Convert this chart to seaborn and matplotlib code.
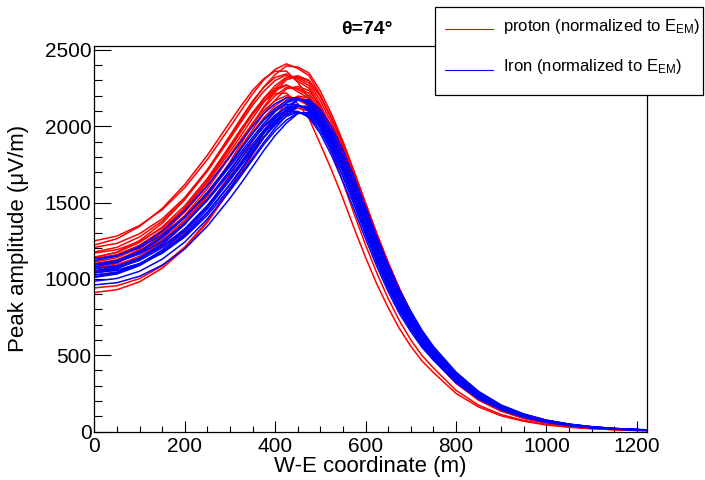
import matplotlib
matplotlib.use("Agg")
import matplotlib.pyplot as plt
from matplotlib.ticker import MultipleLocator
from matplotlib.patches import Rectangle
from matplotlib.lines import Line2D
import pandas as pd
import seaborn as sns

# W-E coordinate (m) at which every simulated curve is sampled
x_coord = [0, 50, 100, 150, 200, 250, 300, 325, 350, 375, 400, 425, 450, 475,
           500, 525, 550, 575, 600, 625, 650, 675, 700, 725, 750, 800, 850,
           900, 950, 1000, 1050, 1100, 1150, 1200, 1225]

# Peak amplitude (uV/m), proton showers (normalized to E_EM)
proton_curves = [
    [1249, 1281, 1350, 1453, 1598, 1782, 1995, 2104, 2212, 2304, 2373, 2409, 2379, 2332, 2204, 2046, 1866, 1664, 1457, 1257, 1070, 902, 752, 626, 520, 350, 227, 148, 96, 62, 39, 26, 15, 10, 8],
    [1222, 1263, 1344, 1461, 1618, 1810, 2027, 2135, 2235, 2312, 2361, 2361, 2289, 2181, 2007, 1828, 1633, 1424, 1223, 1038, 872, 726, 601, 498, 417, 270, 173, 111, 73, 47, 30, 20, 12, 7, 5],
    [1206, 1233, 1296, 1393, 1533, 1715, 1930, 2042, 2156, 2258, 2339, 2395, 2388, 2349, 2231, 2078, 1902, 1703, 1496, 1294, 1104, 932, 778, 648, 538, 364, 237, 155, 100, 65, 41, 27, 16, 11, 9],
    [1176, 1207, 1275, 1378, 1522, 1705, 1919, 2029, 2137, 2230, 2300, 2337, 2309, 2266, 2142, 1988, 1813, 1617, 1416, 1221, 1040, 876, 731, 608, 505, 340, 221, 144, 93, 60, 38, 25, 15, 10, 8],
    [1133, 1159, 1221, 1318, 1457, 1638, 1854, 1967, 2081, 2184, 2266, 2323, 2318, 2283, 2169, 2020, 1849, 1656, 1455, 1258, 1074, 906, 757, 630, 523, 354, 231, 151, 97, 63, 40, 26, 16, 11, 9],
    [1170, 1191, 1245, 1332, 1460, 1629, 1833, 1941, 2053, 2158, 2246, 2317, 2331, 2301, 2196, 2052, 1885, 1694, 1493, 1294, 1107, 936, 783, 652, 540, 368, 240, 157, 101, 65, 41, 27, 16, 11, 9],
    [1143, 1173, 1239, 1340, 1480, 1657, 1865, 1972, 2076, 2166, 2234, 2269, 2241, 2200, 2080, 1930, 1760, 1570, 1375, 1185, 1010, 850, 710, 590, 490, 330, 215, 140, 90, 58, 37, 24, 15, 10, 8],
    [1100, 1125, 1185, 1280, 1415, 1590, 1800, 1910, 2020, 2120, 2200, 2255, 2250, 2217, 2107, 1962, 1796, 1609, 1414, 1222, 1044, 880, 736, 612, 508, 344, 225, 147, 94, 61, 39, 25, 16, 11, 9],
    [1097, 1117, 1170, 1257, 1384, 1552, 1757, 1866, 1978, 2084, 2173, 2245, 2261, 2234, 2134, 1994, 1832, 1647, 1452, 1258, 1077, 910, 762, 634, 525, 358, 234, 153, 98, 63, 40, 26, 16, 11, 9],
    [1076, 1115, 1194, 1311, 1466, 1656, 1875, 1985, 2085, 2164, 2215, 2217, 2149, 2049, 1883, 1712, 1527, 1330, 1141, 966, 812, 674, 559, 462, 387, 250, 161, 103, 67, 43, 28, 18, 12, 7, 5],
    [1067, 1091, 1149, 1242, 1373, 1542, 1746, 1853, 1959, 2056, 2134, 2187, 2182, 2151, 2045, 1904, 1743, 1562, 1373, 1186, 1014, 854, 715, 594, 493, 334, 219, 143, 91, 59, 38, 24, 16, 11, 9],
    [1024, 1043, 1095, 1182, 1308, 1475, 1681, 1791, 1903, 2010, 2100, 2173, 2191, 2167, 2072, 1936, 1779, 1600, 1411, 1222, 1047, 884, 741, 616, 510, 348, 228, 149, 95, 61, 39, 25, 16, 11, 9],
    [1066, 1101, 1176, 1289, 1443, 1637, 1864, 1980, 2090, 2182, 2247, 2271, 2226, 2183, 2053, 1898, 1724, 1531, 1336, 1148, 976, 820, 684, 568, 472, 316, 205, 133, 86, 55, 35, 23, 14, 9, 7],
    [1050, 1071, 1128, 1221, 1358, 1542, 1767, 1887, 2011, 2128, 2225, 2305, 2325, 2298, 2196, 2052, 1885, 1694, 1493, 1294, 1107, 936, 783, 652, 540, 368, 240, 157, 101, 65, 41, 27, 16, 11, 9],
    [911, 929, 981, 1070, 1198, 1369, 1583, 1698, 1814, 1926, 2020, 2097, 2119, 2099, 2010, 1878, 1726, 1553, 1370, 1186, 1017, 858, 720, 598, 495, 338, 222, 145, 92, 59, 38, 24, 16, 11, 9],
    [941, 955, 1002, 1085, 1209, 1379, 1594, 1711, 1833, 1954, 2059, 2155, 2198, 2185, 2099, 1968, 1815, 1639, 1450, 1259, 1081, 914, 767, 638, 528, 362, 238, 156, 99, 64, 41, 26, 17, 12, 10],
    [1139, 1175, 1251, 1364, 1519, 1714, 1940, 2055, 2165, 2256, 2320, 2343, 2296, 2249, 2115, 1956, 1777, 1578, 1377, 1184, 1006, 846, 705, 586, 487, 326, 211, 137, 89, 57, 36, 24, 15, 10, 8],
    [1110, 1139, 1203, 1302, 1438, 1609, 1811, 1915, 2015, 2102, 2168, 2201, 2173, 2134, 2018, 1872, 1707, 1523, 1334, 1149, 980, 824, 689, 572, 475, 320, 209, 136, 87, 56, 36, 23, 15, 10, 8],
]

# Peak amplitude (uV/m), iron showers (normalized to E_EM)
iron_curves = [
    [1119, 1149, 1214, 1312, 1447, 1611, 1801, 1903, 1999, 2084, 2148, 2187, 2186, 2141, 2034, 1886, 1710, 1516, 1319, 1129, 960, 808, 685, 575, 488, 334, 223, 148, 97, 63, 41, 26, 16, 11, 9],
    [1095, 1121, 1181, 1273, 1402, 1563, 1752, 1854, 1953, 2044, 2117, 2167, 2182, 2150, 2053, 1913, 1743, 1553, 1357, 1165, 993, 838, 711, 597, 505, 348, 233, 154, 101, 66, 43, 27, 17, 12, 10],
    [1131, 1153, 1205, 1288, 1408, 1557, 1736, 1832, 1928, 2019, 2095, 2153, 2181, 2158, 2072, 1941, 1777, 1590, 1395, 1202, 1027, 868, 737, 619, 523, 362, 243, 161, 106, 69, 45, 29, 18, 12, 10],
    [1067, 1085, 1134, 1213, 1329, 1481, 1665, 1765, 1868, 1969, 2058, 2129, 2175, 2166, 2091, 1969, 1811, 1627, 1433, 1239, 1061, 898, 763, 641, 541, 376, 253, 168, 111, 72, 47, 31, 19, 12, 10],
    [1078, 1108, 1172, 1270, 1403, 1567, 1757, 1859, 1955, 2040, 2104, 2143, 2142, 2099, 1993, 1847, 1674, 1484, 1291, 1105, 939, 790, 670, 563, 478, 327, 218, 145, 95, 62, 40, 25, 16, 11, 9],
    [1054, 1080, 1139, 1231, 1358, 1519, 1708, 1810, 1909, 2000, 2073, 2123, 2138, 2108, 2012, 1874, 1707, 1521, 1329, 1141, 972, 820, 696, 585, 495, 341, 228, 151, 99, 65, 42, 26, 17, 12, 10],
    [1090, 1112, 1163, 1246, 1364, 1513, 1692, 1788, 1884, 1975, 2051, 2109, 2137, 2116, 2031, 1902, 1741, 1558, 1367, 1178, 1006, 850, 722, 607, 513, 355, 238, 158, 104, 68, 44, 28, 18, 12, 10],
    [1026, 1044, 1092, 1171, 1285, 1437, 1621, 1721, 1824, 1925, 2014, 2085, 2131, 2124, 2050, 1930, 1775, 1595, 1405, 1215, 1040, 880, 748, 629, 531, 369, 248, 165, 109, 71, 46, 30, 19, 12, 10],
    [1042, 1056, 1097, 1168, 1274, 1417, 1594, 1690, 1792, 1895, 1989, 2069, 2129, 2133, 2069, 1957, 1808, 1632, 1443, 1251, 1073, 910, 774, 651, 548, 383, 258, 171, 113, 74, 48, 31, 20, 13, 11],
    [1013, 1039, 1097, 1189, 1314, 1475, 1664, 1766, 1865, 1956, 2029, 2079, 2094, 2066, 1971, 1835, 1671, 1489, 1301, 1117, 951, 802, 681, 573, 485, 334, 223, 148, 97, 64, 41, 25, 17, 12, 10],
    [1049, 1071, 1121, 1204, 1320, 1469, 1648, 1744, 1840, 1931, 2007, 2065, 2093, 2074, 1990, 1863, 1705, 1526, 1339, 1154, 985, 832, 707, 595, 503, 348, 233, 155, 102, 67, 43, 27, 18, 12, 10],
    [985, 1003, 1050, 1129, 1241, 1393, 1577, 1677, 1780, 1881, 1970, 2041, 2087, 2082, 2009, 1891, 1739, 1563, 1377, 1191, 1019, 862, 733, 617, 521, 362, 243, 162, 107, 70, 45, 29, 19, 12, 10],
    [961, 975, 1017, 1090, 1196, 1345, 1528, 1628, 1734, 1841, 1939, 2021, 2083, 2091, 2028, 1918, 1772, 1600, 1415, 1227, 1052, 892, 759, 639, 538, 376, 253, 168, 111, 73, 47, 30, 20, 13, 11],
    [1043, 1057, 1101, 1174, 1284, 1433, 1616, 1716, 1822, 1929, 2027, 2109, 2171, 2175, 2110, 1996, 1844, 1664, 1471, 1275, 1094, 928, 789, 663, 558, 390, 263, 174, 115, 75, 49, 32, 20, 13, 11],
    [1037, 1067, 1130, 1228, 1359, 1523, 1713, 1815, 1911, 1996, 2060, 2099, 2098, 2057, 1952, 1808, 1638, 1452, 1263, 1081, 918, 772, 655, 551, 468, 320, 213, 142, 93, 61, 39, 24, 16, 11, 9],
    [1010, 1032, 1087, 1174, 1296, 1457, 1648, 1752, 1856, 1955, 2039, 2101, 2133, 2115, 2025, 1894, 1731, 1547, 1356, 1167, 996, 841, 717, 603, 512, 355, 238, 158, 104, 68, 44, 28, 18, 12, 10],
]

series_labels = ["proton (normalized to E$_{EM}$)", "Iron (normalized to E$_{EM}$)"]
series_colors = ["#ff0000", "#0000ff"]
title_text = "θ=74°"
x_label = "W-E coordinate (m)"
y_label = "Peak amplitude (μV/m)"


def to_long(curves, name):
    rows = []
    for i, c in enumerate(curves):
        if len(c) != len(x_coord):
            raise ValueError(f"{name} curve {i} has {len(c)} values")
        for xv, yv in zip(x_coord, c):
            rows.append({"primary": name, "curve": i, "x": xv, "amp": yv})
    return pd.DataFrame(rows)


df_p = to_long(proton_curves, "proton")
df_fe = to_long(iron_curves, "Iron")

sns.set_theme(style="ticks")
plt.rcParams["font.family"] = ["Liberation Sans", "DejaVu Sans"]
plt.rcParams["mathtext.default"] = "regular"

fig = plt.figure(figsize=(7.05, 4.8), dpi=100)
ax = fig.add_axes([0.1338, 0.101, 0.7835, 0.8032])

sns.lineplot(data=df_p, x="x", y="amp", units="curve", estimator=None,
             color=series_colors[0], lw=1.1, sort=False, ax=ax, legend=False)
sns.lineplot(data=df_fe, x="x", y="amp", units="curve", estimator=None,
             color=series_colors[1], lw=1.1, sort=False, ax=ax, legend=False)

ax.set_xlim(0, 1222)
ax.set_ylim(0, 2526)
ax.xaxis.set_major_locator(MultipleLocator(200))
ax.xaxis.set_minor_locator(MultipleLocator(50))
ax.yaxis.set_major_locator(MultipleLocator(500))
ax.yaxis.set_minor_locator(MultipleLocator(100))
ax.tick_params(which="both", direction="in", top=False, right=False,
               colors="black", width=0.8, labelcolor="black")
ax.tick_params(axis="x", which="major", length=8, labelsize=15, pad=4)
ax.tick_params(axis="x", which="minor", length=4)
ax.tick_params(axis="y", which="major", length=12, labelsize=15, pad=2)
ax.tick_params(axis="y", which="minor", length=6)
for s in ax.spines.values():
    s.set_color("black")
    s.set_linewidth(0.9)

ax.set_xlabel(x_label, fontsize=16, color="black")
ax.set_ylabel(y_label, fontsize=16, color="black")
ax.xaxis.label.set_va("center")
ax.xaxis.set_label_coords(0.5, -0.092)
ax.yaxis.label.set_va("center")
ax.yaxis.set_label_coords(-0.138, 0.5)

fig.text(367 / 705, 1 - 30 / 480, title_text, ha="center", va="center",
         fontsize=14, fontweight="bold", color="black")

# legend box (ROOT TLegend style)
W, H = 705.0, 480.0
box = Rectangle((435 / W, 1 - 95 / H), (703 - 435) / W, (95 - 7) / H,
                transform=fig.transFigure, facecolor="white",
                edgecolor="black", lw=0.9, zorder=10)
fig.add_artist(box)
for lab, col, ly in zip(series_labels, series_colors, [29, 70]):
    fig.add_artist(Line2D([445 / W, 493 / W], [1 - ly / H] * 2,
                          transform=fig.transFigure, color=col, lw=0.8,
                          zorder=11))
    fig.text(503 / W, 1 - (ly - 3) / H, lab, ha="left", va="center",
             fontsize=12, color="black", zorder=12)

fig.savefig("out.png", dpi=100)
